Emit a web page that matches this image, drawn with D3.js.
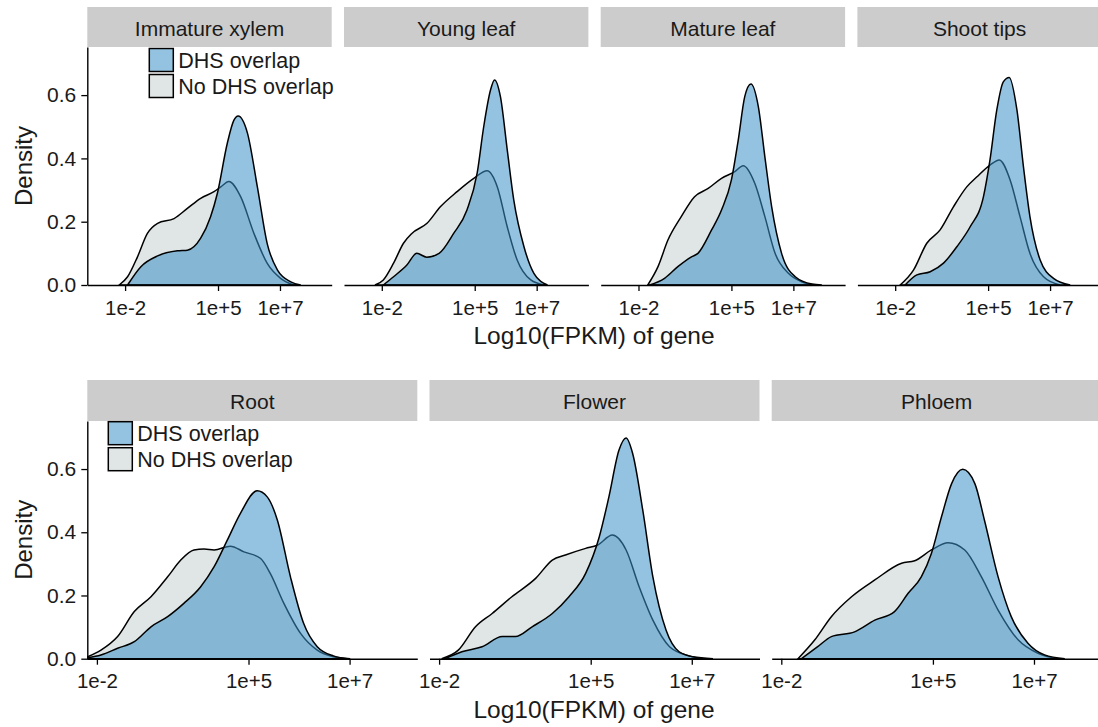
<!DOCTYPE html>
<html>
<head>
<meta charset="utf-8">
<script src="https://cdn.jsdelivr.net/npm/d3@7"></script>
<style>
body { margin: 0; background: #fff; }
text { font-family: "Liberation Sans", Arial, sans-serif; fill: #1a1a1a; }
</style>
</head>
<body>
<svg id="chart" width="1098" height="727"></svg>
<script>
// x values are in axis units: 1e-2 sits at 0, 1e+5 at 3, 1e+7 at 5
var xTicks = [0, 3, 5];
var xTickLabels = ["1e-2", "1e+5", "1e+7"];
var yTicks = [0, 0.2, 0.4, 0.6];
var seriesNames = ["DHS overlap", "No DHS overlap"];
var topPanels = ["Immature xylem", "Young leaf", "Mature leaf", "Shoot tips"];
var bottomPanels = ["Root", "Flower", "Phloem"];

var xylemDHS = [[0.08,0],[0.51,0.058],[1.05,0.092],[1.69,0.108],[2.01,0.11],[2.44,0.148],[2.76,0.216],[2.98,0.29],[3.30,0.448],[3.51,0.52],[3.65,0.534],[3.95,0.48],[4.27,0.31],[4.59,0.13],[4.92,0.047],[5.35,0.01],[5.67,0]];
var xylemNo = [[-0.19,0],[0.08,0.026],[0.40,0.089],[0.72,0.163],[1.05,0.195],[1.58,0.21],[2.01,0.242],[2.44,0.274],[2.87,0.295],[3.09,0.31],[3.35,0.327],[3.73,0.279],[4.16,0.163],[4.59,0.068],[5.02,0.021],[5.45,0]];

var youngDHS = [[0.05,0],[0.38,0.026],[0.81,0.063],[1.13,0.1],[1.45,0.088],[1.85,0.1],[2.32,0.163],[2.75,0.237],[3.08,0.354],[3.29,0.5],[3.51,0.616],[3.64,0.648],[3.83,0.595],[4.05,0.427],[4.26,0.269],[4.59,0.121],[4.91,0.037],[5.35,0]];
var youngNo = [[-0.22,0],[0.05,0.016],[0.38,0.069],[0.70,0.132],[0.97,0.163],[1.46,0.195],[1.89,0.247],[2.43,0.295],[2.97,0.337],[3.40,0.361],[3.73,0.31],[4.05,0.184],[4.37,0.079],[4.81,0.016],[5.24,0]];

var matureDHS = [[0.36,0],[0.84,0.021],[1.27,0.058],[1.71,0.089],[1.92,0.1],[2.36,0.174],[2.68,0.237],[3.00,0.332],[3.22,0.458],[3.43,0.595],[3.63,0.635],[3.87,0.563],[4.08,0.405],[4.30,0.247],[4.62,0.1],[5.06,0.026],[5.60,0.003],[5.92,0]];
var matureNo = [[0.30,0],[0.63,0.058],[0.95,0.142],[1.38,0.216],[1.81,0.279],[2.25,0.305],[2.68,0.337],[3.11,0.358],[3.38,0.377],[3.76,0.32],[4.08,0.216],[4.41,0.1],[4.84,0.037],[5.27,0.01],[5.70,0]];

var shootDHS = [[0.32,0],[0.70,0.032],[1.13,0.042],[1.56,0.069],[1.99,0.121],[2.42,0.184],[2.85,0.279],[3.06,0.395],[3.28,0.553],[3.49,0.642],[3.68,0.656],[3.93,0.553],[4.14,0.374],[4.35,0.216],[4.68,0.079],[5.11,0.021],[5.65,0]];
var shootNo = [[0.16,0],[0.59,0.047],[1.02,0.132],[1.45,0.174],[1.88,0.247],[2.31,0.31],[2.64,0.342],[3.06,0.379],[3.36,0.395],[3.71,0.332],[4.03,0.216],[4.35,0.1],[4.79,0.026],[5.32,0]];

var rootDHS = [[-0.18,0.003],[0.08,0.012],[0.41,0.033],[0.74,0.054],[1.07,0.101],[1.40,0.133],[1.72,0.175],[2.05,0.227],[2.32,0.291],[2.58,0.375],[2.84,0.46],[3.17,0.531],[3.37,0.512],[3.57,0.439],[3.83,0.259],[4.09,0.112],[4.36,0.038],[4.68,0.009],[5.01,0]];
var rootNo = [[-0.18,0.006],[0.08,0.027],[0.41,0.07],[0.74,0.149],[1.07,0.196],[1.40,0.259],[1.66,0.312],[1.92,0.344],[2.12,0.347],[2.32,0.344],[2.64,0.356],[2.91,0.338],[3.24,0.317],[3.43,0.27],[3.70,0.175],[4.03,0.08],[4.36,0.027],[4.68,0.006],[4.95,0]];

var flowerDHS = [[0.12,0],[0.45,0.022],[0.85,0.038],[1.25,0.07],[1.51,0.07],[1.84,0.101],[2.24,0.143],[2.57,0.196],[2.90,0.27],[3.17,0.386],[3.36,0.512],[3.56,0.66],[3.70,0.698],[3.83,0.649],[4.03,0.47],[4.23,0.259],[4.49,0.091],[4.75,0.022],[5.02,0.006],[5.42,0]];
var flowerNo = [[0.05,0],[0.38,0.027],[0.72,0.101],[1.05,0.143],[1.44,0.196],[1.91,0.254],[2.24,0.312],[2.50,0.328],[2.90,0.349],[3.13,0.359],[3.43,0.391],[3.70,0.344],[3.96,0.227],[4.23,0.122],[4.56,0.038],[4.95,0.009],[5.22,0]];

var phloemDHS = [[0.40,0],[0.72,0.038],[0.99,0.07],[1.45,0.085],[1.85,0.122],[2.24,0.149],[2.51,0.207],[2.77,0.259],[2.97,0.333],[3.17,0.449],[3.37,0.554],[3.59,0.599],[3.83,0.554],[4.02,0.438],[4.29,0.259],[4.55,0.133],[4.88,0.049],[5.21,0.012],[5.61,0]];
var phloemNo = [[0.33,0],[0.66,0.059],[0.99,0.133],[1.39,0.196],[1.85,0.249],[2.38,0.302],[2.64,0.31],[2.97,0.344],[3.30,0.367],[3.63,0.344],[3.96,0.259],[4.29,0.154],[4.69,0.059],[5.08,0.017],[5.47,0]];

var blue = "#3a92c7", grey = "#e0e5e5";

var rows = [
	{names: topPanels, dhs: [xylemDHS, youngDHS, matureDHS, shootDHS], no: [xylemNo, youngNo, matureNo, shootNo],
	 x0: 87.3, step: 256.7, w: 244.4, stripTop: 7, top: 47, bottom: 285, xDomain: [-1.22, 6.67], legendX: 62, legendY: 1.5},
	{names: bottomPanels, dhs: [rootDHS, flowerDHS, phloemDHS], no: [rootNo, flowerNo, phloemNo],
	 x0: 87.3, step: 342.2, w: 330, stripTop: 380, top: 421, bottom: 658.7, xDomain: [-0.19, 6.34], legendX: 21, legendY: 0.7}
];

var svg = d3.select("#chart");

rows.forEach(function(row)
{
	var y = d3.scaleLinear().domain([0, 0.752]).range([row.bottom, row.top]);

	row.names.forEach(function(name, i)
	{
		var left = row.x0 + i*row.step;
		var x = d3.scaleLinear().domain(row.xDomain).range([left, left + row.w]);
		var g = svg.append("g");

		// strip
		g.append("rect")
			.attr("x", left).attr("y", row.stripTop)
			.attr("width", row.w).attr("height", row.top - row.stripTop)
			.attr("fill", "#cccccc");
		g.append("text")
			.attr("x", left + row.w/2).attr("y", (row.stripTop + row.top)/2 + 1)
			.attr("text-anchor", "middle").attr("dominant-baseline", "central")
			.attr("font-size", 21).text(name);

		var area = d3.area()
			.x(function(d){return x(d[0]);})
			.y0(y(0))
			.y1(function(d){return y(d[1]);})
			.curve(d3.curveMonotoneX);

		g.append("path").datum(row.no[i])
			.attr("d", area)
			.attr("fill", grey)
			.attr("stroke", "#000").attr("stroke-width", 1.5);
		g.append("path").datum(row.dhs[i])
			.attr("d", area)
			.attr("fill", blue).attr("fill-opacity", 0.55)
			.attr("stroke", "#000").attr("stroke-width", 1.5);

		var xAxis = g.append("g")
			.attr("transform", "translate(0," + row.bottom + ")")
			.call(d3.axisBottom(x).tickValues(xTicks)
				.tickFormat(function(d, k){return xTickLabels[k];})
				.tickSize(6).tickPadding(9).tickSizeOuter(0));
		xAxis.selectAll("text").attr("font-size", 20.5).attr("fill", "#1a1a1a")
			.style("font-family", "'Liberation Sans', Arial, sans-serif");
		xAxis.selectAll("line").attr("stroke", "#000").attr("stroke-width", 1.3);
		xAxis.select(".domain").attr("stroke", "#000").attr("stroke-width", 1.4);

		if (i == 0)
		{
			var yAxis = g.append("g")
				.attr("transform", "translate(" + left + ",0)")
				.call(d3.axisLeft(y).tickValues(yTicks).tickFormat(d3.format(".1f"))
					.tickSize(6).tickPadding(5).tickSizeOuter(0));
			yAxis.selectAll("text").attr("font-size", 21).attr("fill", "#1a1a1a")
				.style("font-family", "'Liberation Sans', Arial, sans-serif");
			yAxis.selectAll("line").attr("stroke", "#000").attr("stroke-width", 1.3);
			yAxis.select(".domain").attr("stroke", "#000").attr("stroke-width", 1.4);

			// legend inside the first panel
			var lg = g.append("g")
				.attr("transform", "translate(" + (left + row.legendX) + "," + (row.top + row.legendY) + ")");
			seriesNames.forEach(function(s, k)
			{
				lg.append("rect")
					.attr("x", 0).attr("y", k*26)
					.attr("width", 24).attr("height", 23)
					.attr("fill", k == 0 ? blue : grey)
					.attr("fill-opacity", k == 0 ? 0.55 : 1)
					.attr("stroke", "#000").attr("stroke-width", 1.5);
				lg.append("text")
					.attr("x", 29).attr("y", k*26 + 12)
					.attr("dominant-baseline", "central")
					.attr("font-size", 21.5).text(s);
			});

			// y title
			svg.append("text")
				.attr("transform", "translate(32," + ((row.top + row.bottom)/2) + ") rotate(-90)")
				.attr("text-anchor", "middle")
				.attr("font-size", 24).text("Density");
		}
	});

	// x title
	svg.append("text")
		.attr("x", 594).attr("y", row.bottom + 59)
		.attr("text-anchor", "middle")
		.attr("font-size", 24.5).text("Log10(FPKM) of gene");
});
</script>
</body>
</html>
